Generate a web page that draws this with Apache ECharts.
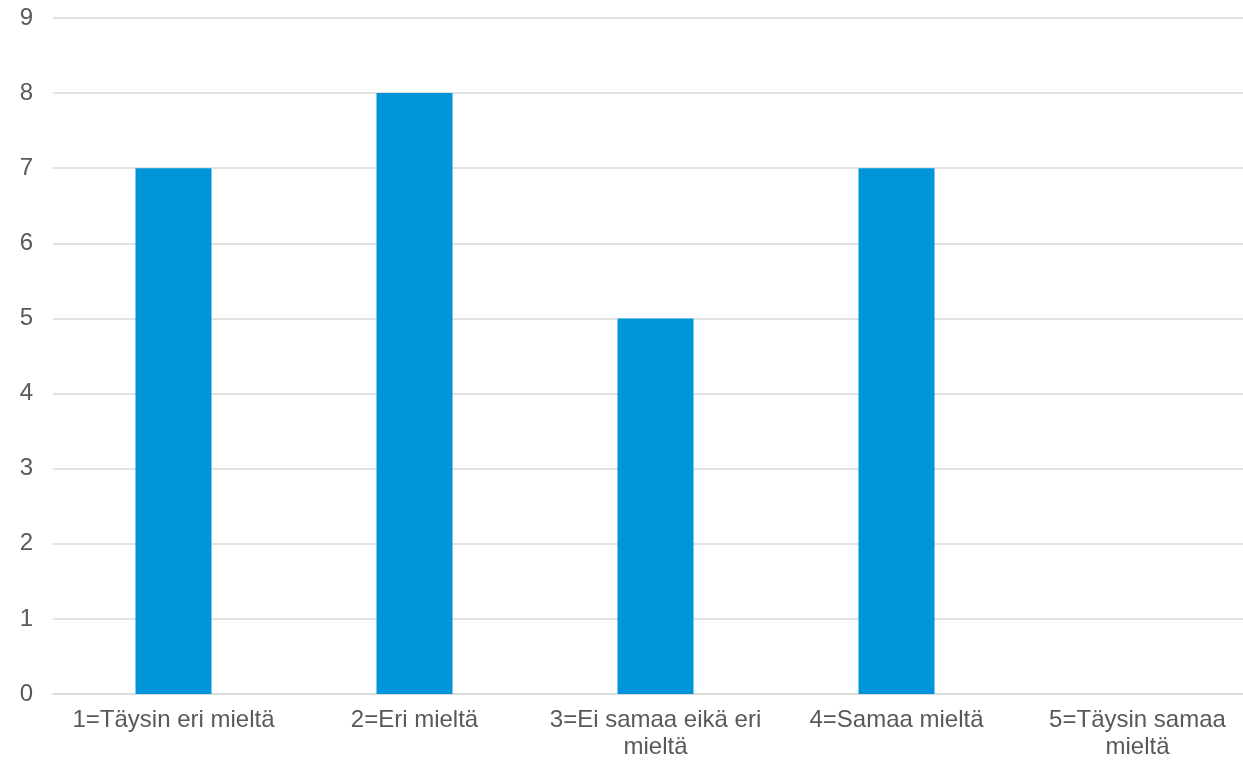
<!DOCTYPE html>
<html><head><meta charset="utf-8">
<script src="https://cdn.jsdelivr.net/npm/echarts@6/dist/echarts.min.js"></script>
<style>html,body{margin:0;padding:0;background:#fff}#c{width:1243px;height:762px}</style>
</head><body><div id="c"></div>
<script>
const categories = ["1=Täysin eri mieltä", "2=Eri mieltä", "3=Ei samaa eikä eri\nmieltä", "4=Samaa mieltä", "5=Täysin samaa\nmieltä"];
const values = [7, 8, 5, 7, 0];
const yMin = 0, yMax = 9, yStep = 1;

const chart = echarts.init(document.getElementById('c'), null, {renderer: 'canvas'});
chart.setOption({
  animation: false,
  grid: {left: 53, top: 18, right: -15, bottom: 68, containLabel: false, outerBoundsMode: 'none'},
  xAxis: {
    type: 'category', data: categories,
    axisLine: {show: true, lineStyle: {color: '#d9d9d9', width: 1.5}},
    axisTick: {show: false},
    axisLabel: {color: '#595959', fontSize: 24, fontFamily: 'Liberation Sans, Arial, sans-serif', margin: 13, lineHeight: 27, interval: 0}
  },
  yAxis: {
    type: 'value', min: yMin, max: yMax, interval: yStep,
    axisLine: {show: false}, axisTick: {show: false},
    splitLine: {lineStyle: {color: '#d9d9d9', width: 1.5}},
    axisLabel: {color: '#595959', fontSize: 24, fontFamily: 'Liberation Sans, Arial, sans-serif', margin: 20}
  },
  series: [{type: 'bar', data: values, barWidth: 76, itemStyle: {color: '#0095D9'}}]
});
</script></body></html>
